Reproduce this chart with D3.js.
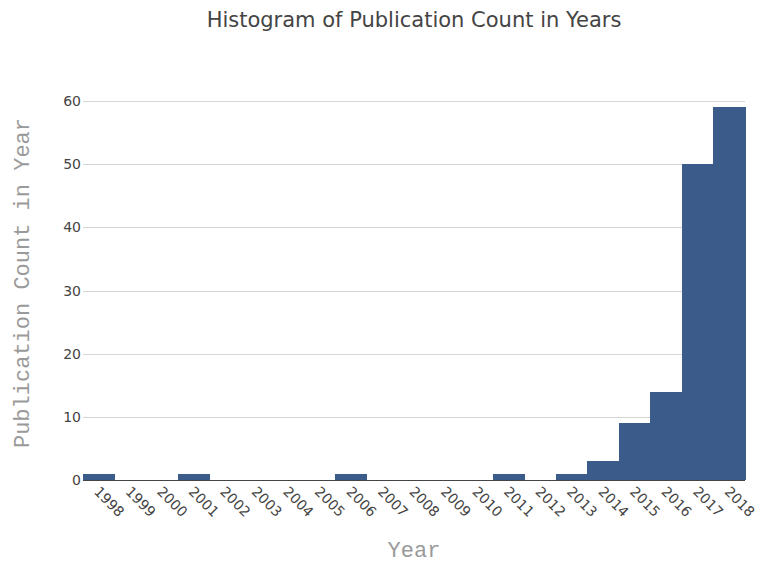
<!DOCTYPE html>
<html><head><meta charset="utf-8">
<script src="https://cdn.jsdelivr.net/npm/d3@7"></script>
<style>body{margin:0;background:#fff}svg{display:block}</style>
</head><body>
<svg id="c" width="757" height="565"></svg>
<script>
const years = [1998,1999,2000,2001,2002,2003,2004,2005,2006,2007,2008,2009,2010,2011,2012,2013,2014,2015,2016,2017,2018];
const counts = [1,0,0,1,0,0,0,0,1,0,0,0,0,1,0,1,3,9,14,50,59];
const yTicks = [0,10,20,30,40,50,60];

const W = 757, H = 565;
const m = {l:83, r:12, t:101, b:85};
const svg = d3.select("#c");
const x = d3.scaleBand().domain(years).range([m.l, W - m.r]).padding(0);
const y = d3.scaleLinear().domain([0, 60]).range([H - m.b, m.t]);

// grid
svg.append("g").selectAll("line").data(yTicks.filter(d=>d>0)).join("line")
  .attr("x1", m.l).attr("x2", W - m.r)
  .attr("y1", d => Math.round(y(d)) + 0.5).attr("y2", d => Math.round(y(d)) + 0.5)
  .attr("stroke", "#d6d6d6").attr("stroke-width", 1);

// y tick labels
svg.append("g").selectAll("text").data(yTicks).join("text")
  .attr("x", m.l - 2).attr("y", d => y(d)).attr("dy", "0.36em")
  .attr("text-anchor", "end")
  .attr("font-family", "DejaVu Sans, Verdana, sans-serif").attr("font-size", 14)
  .attr("fill", "#444").text(d => d);

// zero line
svg.append("line").attr("x1", m.l).attr("x2", W - m.r)
  .attr("y1", Math.round(y(0)) + 0.5).attr("y2", Math.round(y(0)) + 0.5)
  .attr("stroke", "#444").attr("stroke-width", 1.2);

// bars
svg.append("g").attr("shape-rendering", "crispEdges").selectAll("rect")
  .data(years.map((yr,i)=>({yr, v:counts[i]})).filter(d=>d.v>0)).join("rect")
  .attr("x", d => x(d.yr)).attr("width", x.bandwidth() + 0.5)
  .attr("y", d => y(d.v)).attr("height", d => y(0) - y(d.v))
  .attr("fill", "#3b5b8b");

// x tick labels
svg.append("g").selectAll("text").data(years).join("text")
  .attr("transform", d => `translate(${x(d) + x.bandwidth()/2 - 2},${y(0) + 9}) rotate(45)`)
  .attr("text-anchor", "start").attr("dy", "0.36em")
  .attr("font-family", "DejaVu Sans, Verdana, sans-serif").attr("font-size", 14)
  .attr("fill", "#444").text(d => d);

// title
svg.append("text").attr("x", (m.l + W - m.r)/2).attr("y", 27)
  .attr("text-anchor", "middle")
  .attr("font-family", "DejaVu Sans, Verdana, sans-serif").attr("font-size", 21)
  .attr("fill", "#444").text("Histogram of Publication Count in Years");

// axis titles
svg.append("text").attr("x", 414).attr("y", 557)
  .attr("text-anchor", "middle")
  .attr("font-family", "Liberation Mono, Courier New, monospace").attr("font-size", 22)
  .attr("fill", "#9a9a9a").text("Year");

svg.append("text").attr("transform", `translate(21,283) rotate(-90)`).attr("dy", "0.35em")
  .attr("text-anchor", "middle")
  .attr("font-family", "Liberation Mono, Courier New, monospace").attr("font-size", 22)
  .attr("fill", "#9a9a9a").text("Publication Count in Year");
</script>
</body></html>
